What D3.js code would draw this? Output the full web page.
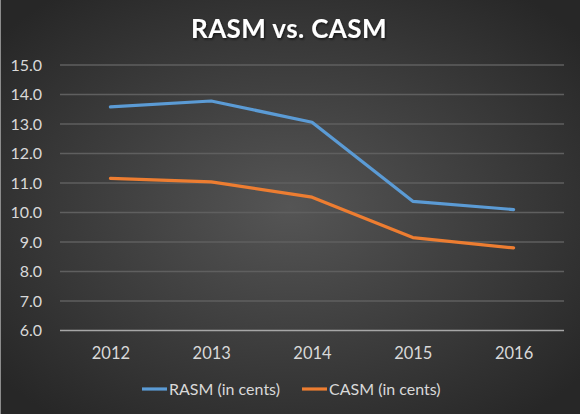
<!DOCTYPE html>
<html>
<head>
<meta charset="utf-8">
<script src="https://cdn.jsdelivr.net/npm/d3@7"></script>
<style>
  body { margin: 0; background: #262626; }
  svg { display: block; font-family: "Lato", "Liberation Sans", sans-serif; }
</style>
</head>
<body>
<svg class="chart" width="580" height="414"></svg>
<script>
// data
const years = ["2012", "2013", "2014", "2015", "2016"];
const rasm = [13.58, 13.78, 13.06, 10.38, 10.1];
const casm = [11.16, 11.04, 10.52, 9.15, 8.8];
const yTicks = [6, 7, 8, 9, 10, 11, 12, 13, 14, 15];

const width = 580, height = 414;
const margin = { top: 65, right: 16, bottom: 83.5, left: 60 };

const svg = d3.select(".chart");

// background
const defs = svg.append("defs");
const grad = defs.append("radialGradient")
    .attr("id", "bg").attr("cx", "50%").attr("cy", "50%").attr("r", "65%");
grad.append("stop").attr("offset", "0%").attr("stop-color", "#555555");
grad.append("stop").attr("offset", "100%").attr("stop-color", "#272727");
const shadow = defs.append("filter").attr("id", "shadow");
shadow.append("feDropShadow")
    .attr("dx", 1).attr("dy", 1.5).attr("stdDeviation", 1.2)
    .attr("flood-color", "#000").attr("flood-opacity", 0.6);

svg.append("rect").attr("width", width).attr("height", height).attr("fill", "url(#bg)");
svg.append("line").attr("x1", 0.5).attr("x2", 0.5).attr("y1", 0).attr("y2", height)
    .attr("stroke", "#8c8c8c").attr("stroke-width", 1);

const x = d3.scalePoint().domain(years)
    .range([margin.left, width - margin.right]).padding(0.5);
const y = d3.scaleLinear().domain([6, 15])
    .range([height - margin.bottom, margin.top]);

// title
svg.append("text")
    .attr("x", width / 2 - 1).attr("y", 38)
    .attr("text-anchor", "middle")
    .attr("fill", "#ffffff")
    .attr("font-size", 26).attr("font-weight", "bold")
    .attr("letter-spacing", 0.4)
    .attr("filter", "url(#shadow)")
    .text("RASM vs. CASM");

// gridlines
svg.append("g").selectAll("line")
    .data(yTicks)
    .join("line")
    .attr("x1", margin.left).attr("x2", width - margin.right)
    .attr("y1", d => y(d)).attr("y2", d => y(d))
    .attr("stroke", d => d === 6 ? "#a6a6a6" : "#5f5f5f")
    .attr("stroke-width", 1.3);

// y axis labels
const yAxis = svg.append("g")
    .attr("transform", `translate(${margin.left}, 0)`)
    .call(d3.axisLeft(y).tickValues(yTicks).tickFormat(d3.format(".1f")).tickSize(0).tickPadding(18))
    .attr("font-family", null).attr("font-size", 16);
yAxis.select(".domain").remove();
yAxis.selectAll("text").attr("fill", "#d9d9d9");

// x axis labels
const xAxis = svg.append("g")
    .attr("transform", `translate(0, ${height - margin.bottom})`)
    .call(d3.axisBottom(x).tickSize(0).tickPadding(17))
    .attr("font-family", null).attr("font-size", 16.5);
xAxis.select(".domain").remove();
xAxis.selectAll("text").attr("fill", "#d9d9d9");

// lines
const series = [
    { name: "RASM (in cents)", values: rasm, color: "#5b9bd5" },
    { name: "CASM (in cents)", values: casm, color: "#ed7d31" },
];

const line = d3.line()
    .x((d, i) => x(years[i]))
    .y(d => y(d));

svg.append("g").selectAll("path")
    .data(series)
    .join("path")
    .attr("d", d => line(d.values))
    .attr("fill", "none")
    .attr("stroke", d => d.color)
    .attr("stroke-width", 3.2)
    .attr("stroke-linejoin", "round")
    .attr("stroke-linecap", "round");

// legend
const legendX = [142, 302];
const legend = svg.append("g").selectAll("g")
    .data(series)
    .join("g")
    .attr("transform", (d, i) => `translate(${legendX[i]}, 389)`);
legend.append("line")
    .attr("x1", 0).attr("x2", 25)
    .attr("stroke", d => d.color).attr("stroke-width", 3.2);
legend.append("text")
    .attr("x", 27).attr("dy", "0.35em")
    .attr("fill", "#d9d9d9").attr("font-size", 16)
    .text(d => d.name);
</script>
</body>
</html>
